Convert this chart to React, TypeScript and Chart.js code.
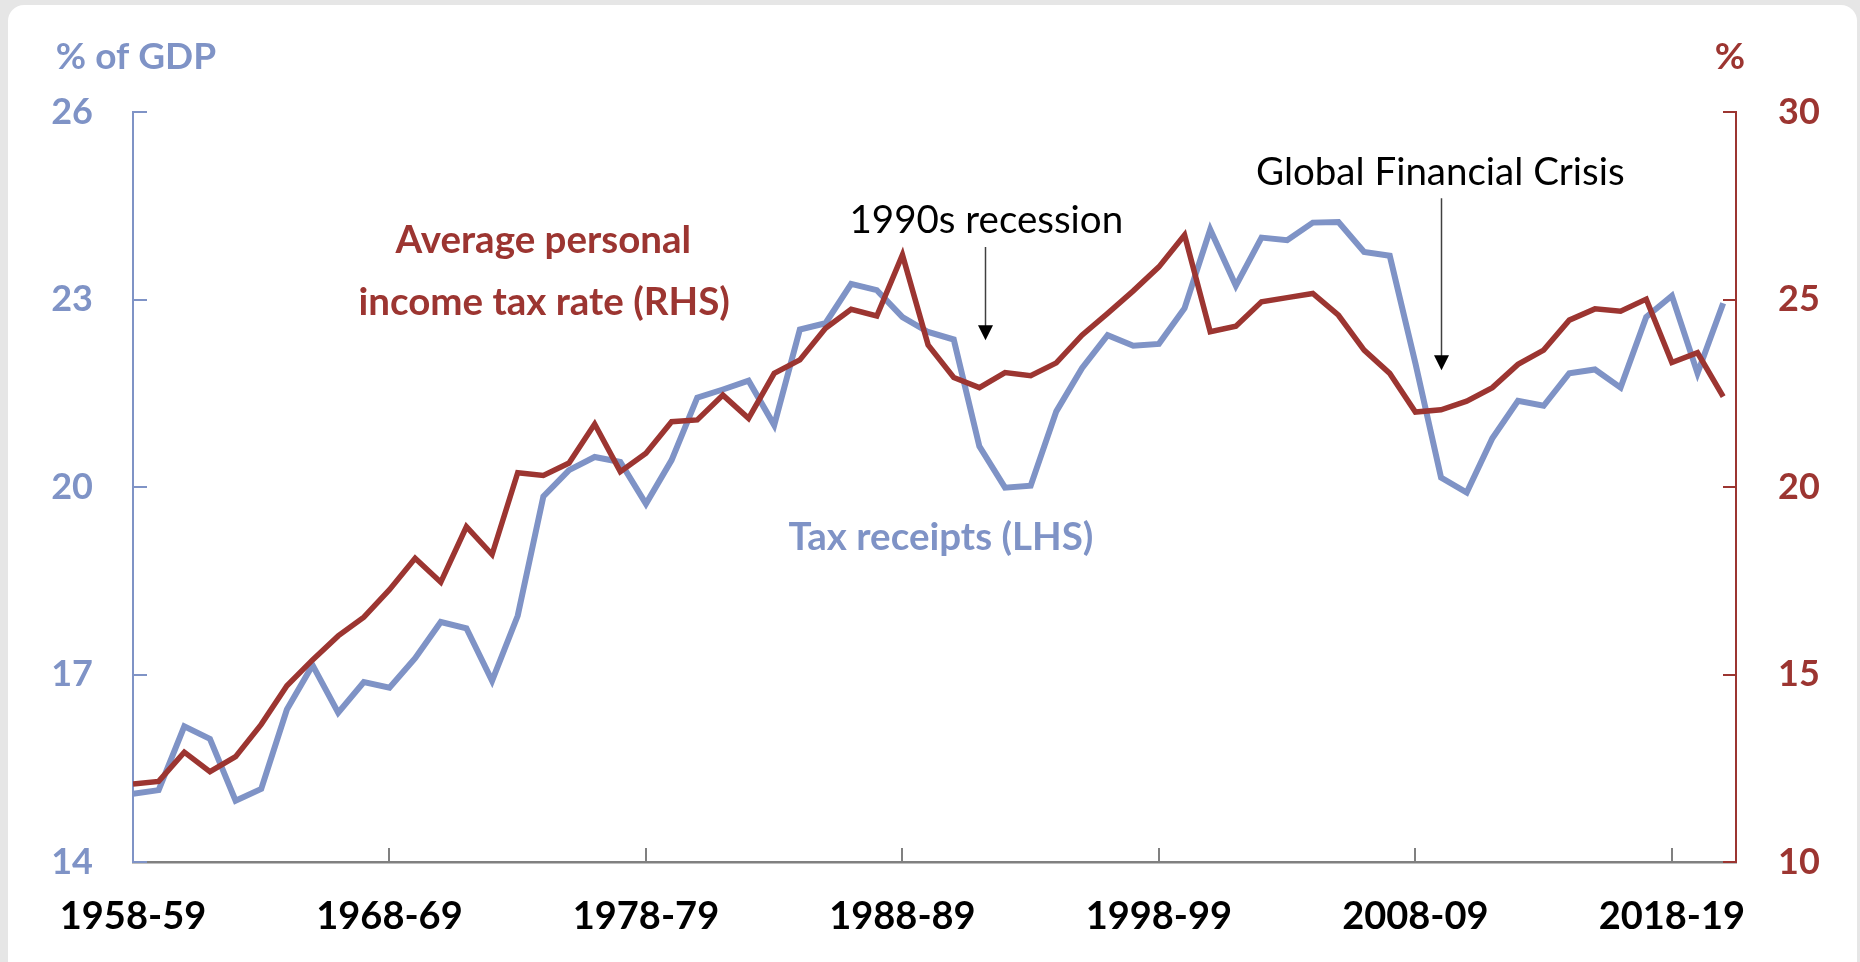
import React, { useEffect, useRef } from "react";
import { Chart, registerables } from "chart.js";

Chart.register(...registerables);

const categories: string[] = [
  "1958-59", "1959-60", "1960-61", "1961-62", "1962-63", "1963-64", "1964-65", "1965-66", "1966-67", "1967-68",
  "1968-69", "1969-70", "1970-71", "1971-72", "1972-73", "1973-74", "1974-75", "1975-76", "1976-77", "1977-78",
  "1978-79", "1979-80", "1980-81", "1981-82", "1982-83", "1983-84", "1984-85", "1985-86", "1986-87", "1987-88",
  "1988-89", "1989-90", "1990-91", "1991-92", "1992-93", "1993-94", "1994-95", "1995-96", "1996-97", "1997-98",
  "1998-99", "1999-00", "2000-01", "2001-02", "2002-03", "2003-04", "2004-05", "2005-06", "2006-07", "2007-08",
  "2008-09", "2009-10", "2010-11", "2011-12", "2012-13", "2013-14", "2014-15", "2015-16", "2016-17", "2017-18",
  "2018-19", "2019-20", "2020-21",
];

// Tax receipts, % of GDP (LHS)
const taxReceipts: number[] = [
  15.09, 15.15, 16.17, 15.97, 14.98, 15.17, 16.44, 17.15, 16.39, 16.88,
  16.79, 17.26, 17.84, 17.74, 16.90, 17.94, 19.85, 20.27, 20.48, 20.40,
  19.73, 20.43, 21.43, 21.56, 21.70, 20.99, 22.52, 22.62, 23.25, 23.15,
  22.72, 22.48, 22.36, 20.65, 19.99, 20.02, 21.21, 21.90, 22.43, 22.26,
  22.29, 22.86, 24.12, 23.22, 23.99, 23.95, 24.23, 24.24, 23.76, 23.70,
  21.98, 20.15, 19.91, 20.78, 21.38, 21.30, 21.82, 21.88, 21.59, 22.72,
  23.06, 21.82, 22.94,
];

// Average personal income tax rate, % (RHS)
const avgTaxRate: number[] = [
  12.08, 12.15, 12.93, 12.41, 12.81, 13.67, 14.70, 15.39, 16.03, 16.53,
  17.26, 18.10, 17.46, 18.94, 18.20, 20.38, 20.31, 20.64, 21.68, 20.41,
  20.90, 21.74, 21.79, 22.45, 21.83, 23.03, 23.39, 24.23, 24.74, 24.56,
  26.19, 23.79, 22.92, 22.65, 23.05, 22.97, 23.31, 24.05, 24.63, 25.23,
  25.87, 26.72, 24.14, 24.29, 24.94, 25.05, 25.16, 24.58, 23.65, 23.03,
  22.00, 22.06, 22.29, 22.65, 23.27, 23.65, 24.45, 24.75, 24.69, 25.01,
  23.32, 23.58, 22.41,
];

const xTickLabels: string[] = ["1958-59", "1968-69", "1978-79", "1988-89", "1998-99", "2008-09", "2018-19"];
const leftTicks: number[] = [14, 17, 20, 23, 26];
const rightTicks: number[] = [10, 15, 20, 25, 30];

const BLUE = "#7F93C6";
const RED = "#9C3531";
const GREY = "#808080";
const FONT = "Lato, 'Open Sans', sans-serif";

const W = 1860;
const H = 962;

const annotationPlugin = {
  id: "annotations",
  afterDatasetsDraw(chart: any) {
    const { ctx, chartArea, scales } = chart;
    const x = scales.x;
    const yL = scales.yL;
    const yR = scales.yR;
    ctx.save();

    // inward tick marks
    ctx.lineWidth = 2;
    ctx.strokeStyle = BLUE;
    leftTicks.forEach((v) => {
      const py = Math.round(yL.getPixelForValue(v));
      ctx.beginPath();
      ctx.moveTo(chartArea.left, py);
      ctx.lineTo(chartArea.left + 14, py);
      ctx.stroke();
    });
    ctx.strokeStyle = RED;
    rightTicks.forEach((v) => {
      const py = Math.round(yR.getPixelForValue(v));
      ctx.beginPath();
      ctx.moveTo(chartArea.right, py);
      ctx.lineTo(chartArea.right - 13, py);
      ctx.stroke();
    });
    ctx.strokeStyle = GREY;
    xTickLabels.forEach((lab) => {
      const idx = categories.indexOf(lab);
      if (idx <= 0) return;
      const px = Math.round(x.getPixelForValue(idx));
      ctx.beginPath();
      ctx.moveTo(px, chartArea.bottom);
      ctx.lineTo(px, chartArea.bottom - 14);
      ctx.stroke();
    });

    const text = (s: string, ix: number, vy: number, color: string, weight: string, size: number) => {
      ctx.font = `${weight} ${size}px ${FONT}`;
      ctx.fillStyle = color;
      ctx.textAlign = "center";
      ctx.textBaseline = "alphabetic";
      ctx.fillText(s, x.getPixelForValue(ix), yL.getPixelForValue(vy));
    };

    // axis titles
    ctx.font = `bold 37px ${FONT}`;
    ctx.textAlign = "center";
    ctx.textBaseline = "alphabetic";
    ctx.fillStyle = BLUE;
    ctx.fillText("% of GDP", chartArea.left + 3, chartArea.top - 43);
    ctx.fillStyle = RED;
    ctx.fillText("%", chartArea.right - 6, chartArea.top - 43);

    text("Average personal", 16.0, 23.74, RED, "bold", 38.5);
    text("income tax rate (RHS)", 16.03, 22.75, RED, "bold", 38.5);
    text("Tax receipts (LHS)", 31.5, 19.0, BLUE, "bold", 38.5);
    text("1990s recession", 33.27, 24.06, "#000000", "normal", 38.5);
    text("Global Financial Crisis", 50.97, 24.83, "#000000", "normal", 38.5);

    const arrow = (ix: number, v0: number, v1: number) => {
      const px = Math.round(x.getPixelForValue(ix)) + 0.5;
      const p0 = yL.getPixelForValue(v0);
      const p1 = yL.getPixelForValue(v1);
      ctx.strokeStyle = "#404040";
      ctx.lineWidth = 1.5;
      ctx.beginPath();
      ctx.moveTo(px, p0);
      ctx.lineTo(px, p1 - 12);
      ctx.stroke();
      ctx.fillStyle = "#000000";
      ctx.beginPath();
      ctx.moveTo(px - 7.5, p1 - 15);
      ctx.lineTo(px + 7.5, p1 - 15);
      ctx.lineTo(px, p1);
      ctx.closePath();
      ctx.fill();
    };
    arrow(33.22, 23.84, 22.35);
    arrow(51.0, 24.62, 21.87);

    ctx.restore();
  },
};

export default function App() {
  const ref = useRef<HTMLCanvasElement | null>(null);

  useEffect(() => {
    if (!ref.current) return;
    const tickFont = { family: FONT, size: 36, weight: "bold" as const };
    const xTickFont = { family: FONT, size: 38, weight: "bold" as const };
    const chart = new Chart(ref.current, {
      type: "line",
      data: {
        datasets: [
          {
            label: "Average personal income tax rate (RHS)",
            data: avgTaxRate.map((v, i) => ({ x: i, y: v })),
            yAxisID: "yR",
            borderColor: RED,
            backgroundColor: RED,
            borderWidth: 5.5,
            pointRadius: 0,
            tension: 0,
            order: 0,
          },
          {
            label: "Tax receipts (LHS)",
            data: taxReceipts.map((v, i) => ({ x: i, y: v })),
            yAxisID: "yL",
            borderColor: BLUE,
            backgroundColor: BLUE,
            borderWidth: 6,
            pointRadius: 0,
            tension: 0,
            order: 1,
          },
        ],
      },
      options: {
        animation: false,
        responsive: false,
        maintainAspectRatio: false,
        layout: { padding: { top: 112, left: 0, right: 0, bottom: 0 } },
        plugins: { legend: { display: false }, tooltip: { enabled: false } },
        scales: {
          x: {
            type: "linear",
            position: "bottom",
            min: 0,
            max: 62.5,
            afterBuildTicks: (s: any) => {
              s.ticks = xTickLabels.map((lab) => ({ value: categories.indexOf(lab) }));
            },
            ticks: {
              autoSkip: false,
              maxRotation: 0,
              minRotation: 0,
              padding: 32,
              color: "#000000",
              font: xTickFont,
              callback: (v: any) => categories[Number(v)] ?? "",
            },
            grid: { display: false, drawTicks: false },
            border: { display: true, color: GREY, width: 2.5 },
            afterFit: (s: any) => {
              s.height = 100;
            },
          },
          yL: {
            type: "linear",
            position: "left",
            min: 14,
            max: 26,
            afterBuildTicks: (s: any) => {
              s.ticks = leftTicks.map((v) => ({ value: v }));
            },
            ticks: { padding: 40, color: BLUE, font: tickFont },
            grid: { display: false, drawTicks: false },
            border: { display: true, color: BLUE, width: 2 },
            afterFit: (s: any) => {
              s.width = 133;
            },
          },
          yR: {
            type: "linear",
            position: "right",
            min: 10,
            max: 30,
            afterBuildTicks: (s: any) => {
              s.ticks = rightTicks.map((v) => ({ value: v }));
            },
            ticks: { padding: 42, color: RED, font: tickFont },
            grid: { display: false, drawTicks: false },
            border: { display: true, color: RED, width: 2 },
            afterFit: (s: any) => {
              s.width = W - 1736;
            },
          },
        },
      },
      plugins: [annotationPlugin],
    });
    return () => chart.destroy();
  }, []);

  return (
    <div style={{ position: "fixed", left: 0, top: 0, width: W, height: H, background: "#e6e6e6", overflow: "hidden" }}>
      <div
        style={{
          position: "absolute",
          left: 8,
          top: 5,
          width: 1849,
          height: 990,
          background: "#ffffff",
          borderRadius: 16,
        }}
      />
      <canvas ref={ref} width={W} height={H} style={{ position: "absolute", left: 0, top: 0, width: W, height: H }} />
    </div>
  );
}
